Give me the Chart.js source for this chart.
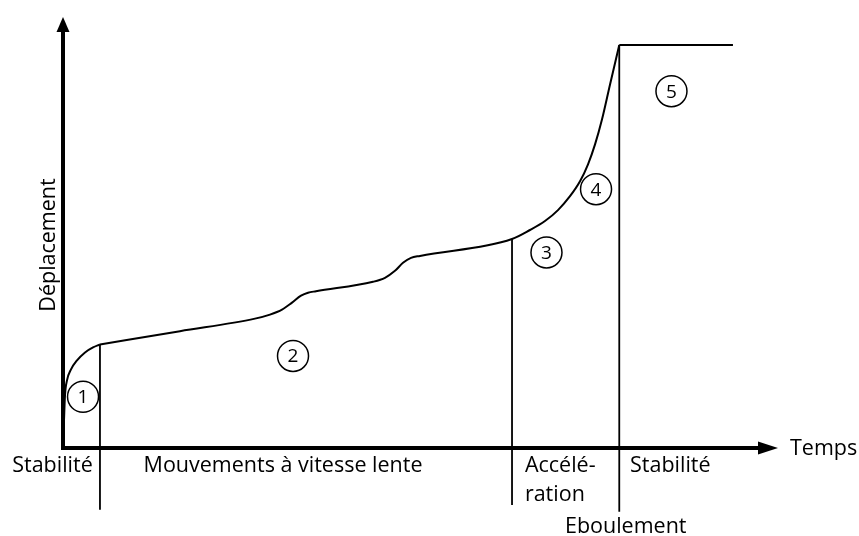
<!DOCTYPE html>
<html><head><meta charset="utf-8">
<script src="https://cdn.jsdelivr.net/npm/chart.js@4"></script>
<style>html,body{margin:0;padding:0;background:#fff}#wrap{width:859px;height:536px;position:relative}</style>
</head><body><div id="wrap"><canvas id="c"></canvas></div>
<script>
// Schematic displacement curve (time units 0..100, displacement units 0..100)
const curveTime = [0, 0.14, 0.28, 0.56, 1.12, 1.96, 3.08, 4.2, 5.17, 16.36, 26.85, 28.95, 30.63, 32.03, 33.29, 34.27, 35.38, 43.36, 45.03, 46.43, 47.55, 48.67, 49.93, 62.8, 65.31, 67.41, 69.23, 70.91, 72.31, 73.43, 74.41, 75.38, 76.5, 77.8];
const curveDisp = [0, 6.47, 12.24, 15.7, 18.24, 20.32, 22.17, 23.33, 24.02, 27.11, 30.02, 30.95, 32.1, 33.72, 35.33, 36.03, 36.37, 38.57, 39.49, 41.11, 42.96, 44.11, 44.57, 48.5, 50.58, 52.66, 55.2, 58.43, 61.89, 65.82, 70.44, 76.21, 84.3, 93.5];
const plateauTime = [77.8, 93.7];
const plateauDisp = [93.5, 93.5];
const boundaryTime = [5.17, 62.8, 77.8];
const boundaryTop = [24.0, 48.5, 93.5];
const boundaryBottom = [-14.3, -13.2, -14.8];
const stageNumbers = ['1', '2', '3', '4', '5'];
const stageTime = [2.8, 32.17, 67.62, 74.55, 85.1];
const stageDisp = [11.89, 21.36, 45.38, 60.05, 82.79];
const phaseLabels = [['Stabilité'], ['Mouvements à vitesse lente'], ['Accélé-', 'ration'], ['Stabilité']];
const phaseLabelTime = [-1.47, 30.77, 64.6, 79.3];
const eventLabel = 'Eboulement';
const eventTime = 70.2;
const xAxisTitle = 'Temps';
const yAxisTitle = 'Déplacement';

const FONT = '"Open Sans", "Noto Sans", sans-serif';
const pts = (xs, ys) => xs.map((v, i) => ({x: v, y: ys[i]}));
const allPts = pts(curveTime, curveDisp);
const split = curveTime.indexOf(boundaryTime[0]);

const lineStyle = {borderColor: '#000', borderWidth: 2, pointRadius: 0, fill: false, clip: false};
const datasets = [
  Object.assign({data: allPts.slice(0, split + 1), cubicInterpolationMode: 'monotone'}, lineStyle),
  Object.assign({data: allPts.slice(split), cubicInterpolationMode: 'monotone'}, lineStyle),
  Object.assign({data: pts(plateauTime, plateauDisp), tension: 0}, lineStyle)
];
boundaryTime.forEach((t, i) => {
  datasets.push({data: [{x: t, y: boundaryTop[i]}, {x: t, y: boundaryBottom[i]}], borderColor: '#000', borderWidth: 1.8, pointRadius: 0, tension: 0, fill: false, clip: false});
});
datasets.push({data: pts(stageTime, stageDisp), showLine: false, pointRadius: 15.5, pointHoverRadius: 15.5, pointStyle: 'circle', pointBorderColor: '#000', pointBorderWidth: 1.5, pointBackgroundColor: 'rgba(0,0,0,0)', clip: false});

const overlay = {
  id: 'overlay',
  beforeDatasetsDraw(chart) {
    const {ctx, scales: {x, y}} = chart;
    const x0 = x.getPixelForValue(0), y0 = y.getPixelForValue(0);
    const xEnd = x.getPixelForValue(x.max), yTop = y.getPixelForValue(y.max);
    ctx.save();
    ctx.strokeStyle = '#000'; ctx.fillStyle = '#000'; ctx.lineWidth = 4;
    ctx.beginPath(); ctx.moveTo(x0, y0 + 2); ctx.lineTo(x0, yTop + 14); ctx.stroke();
    ctx.beginPath(); ctx.moveTo(x0 - 2, y0); ctx.lineTo(xEnd - 18, y0); ctx.stroke();
    ctx.beginPath(); ctx.moveTo(x0, yTop); ctx.lineTo(x0 - 6.5, yTop + 15); ctx.lineTo(x0 + 6.5, yTop + 15); ctx.closePath(); ctx.fill();
    ctx.beginPath(); ctx.moveTo(xEnd, y0); ctx.lineTo(xEnd - 20, y0 - 6.5); ctx.lineTo(xEnd - 20, y0 + 6.5); ctx.closePath(); ctx.fill();
    ctx.restore();
  },
  afterDatasetsDraw(chart) {
    const {ctx, scales: {x, y}} = chart;
    const x0 = x.getPixelForValue(0), y0 = y.getPixelForValue(0);
    const xEnd = x.getPixelForValue(x.max);
    ctx.save();
    ctx.fillStyle = '#000';
    // stage numbers
    ctx.font = '19px ' + FONT; ctx.textAlign = 'center'; ctx.textBaseline = 'middle';
    stageNumbers.forEach((s, i) => ctx.fillText(s, x.getPixelForValue(stageTime[i]), y.getPixelForValue(stageDisp[i]) + 1));
    // phase labels
    ctx.font = '21.5px ' + FONT; ctx.textBaseline = 'alphabetic';
    const aligns = ['center', 'center', 'left', 'left'];
    phaseLabels.forEach((lines, i) => {
      ctx.textAlign = aligns[i];
      lines.forEach((ln, j) => ctx.fillText(ln, x.getPixelForValue(phaseLabelTime[i]), y0 + 24 + j * 29));
    });
    ctx.textAlign = 'left';
    ctx.fillText(eventLabel, x.getPixelForValue(eventTime), y0 + 85);
    ctx.fillText(xAxisTitle, xEnd + 12, y0 + 7);
    ctx.translate(x0 - 8, 245); ctx.rotate(-Math.PI / 2);
    ctx.textAlign = 'center';
    ctx.fillText(yAxisTitle, 0, 0);
    ctx.restore();
  }
};

new Chart(document.getElementById('c'), {
  type: 'line',
  data: {datasets},
  options: {
    responsive: true, maintainAspectRatio: false, animation: false, events: [],
    layout: {padding: {left: 63, top: 15, right: 81, bottom: 88}},
    scales: {
      x: {type: 'linear', min: 0, max: 100, display: false},
      y: {type: 'linear', min: 0, max: 100, display: false}
    },
    plugins: {legend: {display: false}, tooltip: {enabled: false}}
  },
  plugins: [overlay]
});
</script>
</body></html>
